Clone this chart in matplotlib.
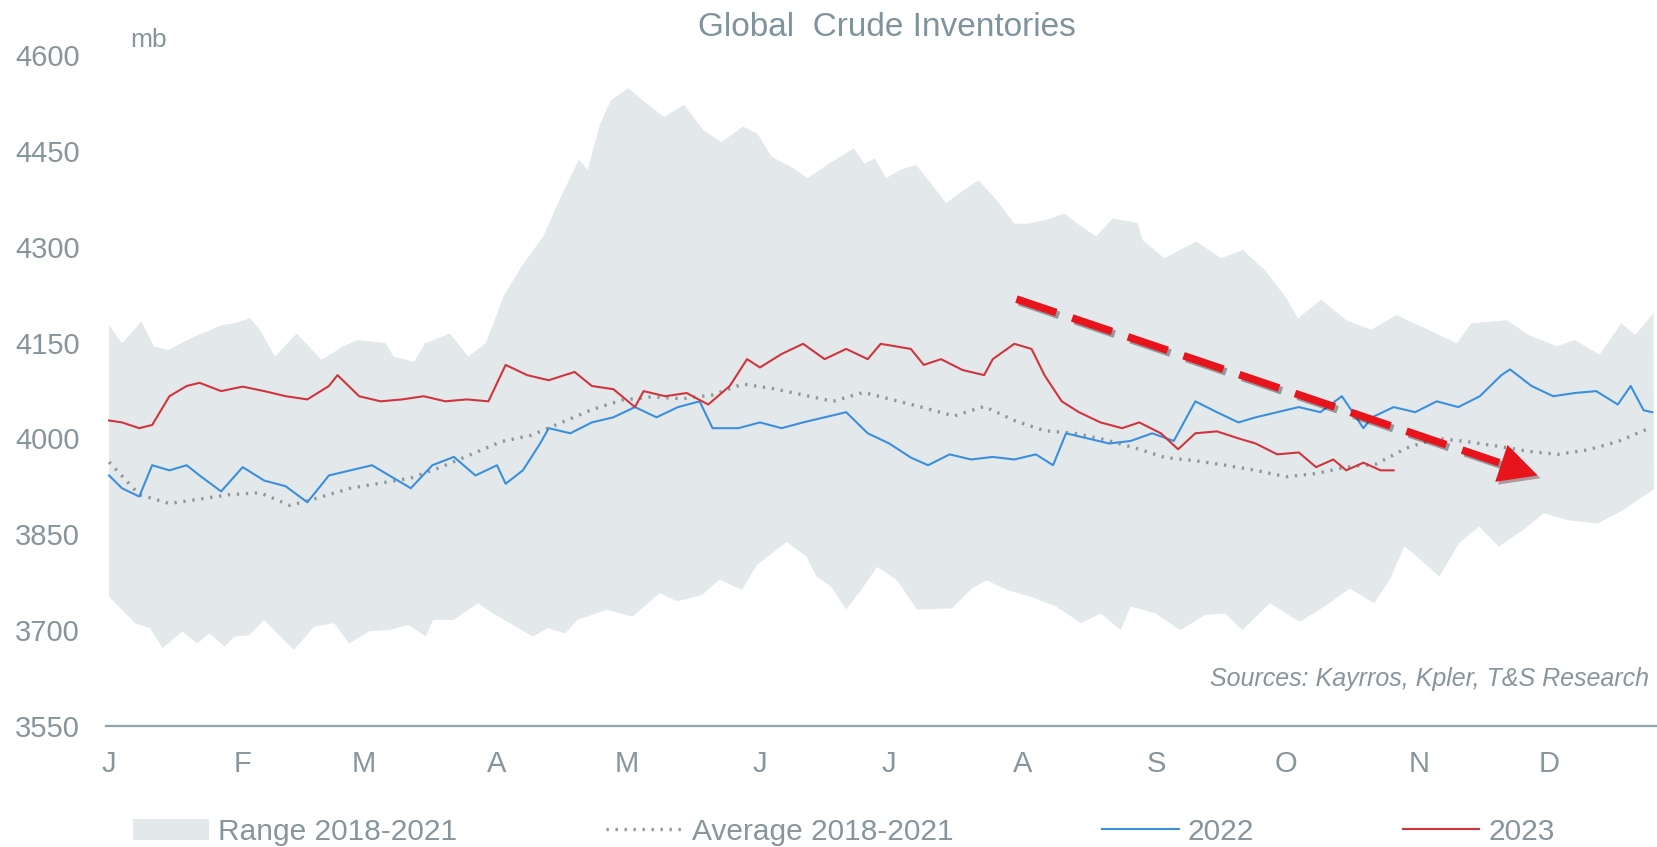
import matplotlib.pyplot as plt
import matplotlib.patheffects as pe

# 2018-2021 range, upper edge (day of year, mb)
hi_days = [0, 3, 7.5, 10.4, 13.7, 17, 20, 23, 26.1, 29, 32.7, 35, 38.5, 43.5, 49.3, 54.3,
           57.6, 64.2, 66, 70.8, 73.3, 79.1, 83.3, 87.4, 91.5, 95.7, 100.7, 104.8, 109,
           111, 113.9, 116.4, 120.5, 124.7, 128.8, 133.4, 137.9, 142.1, 147.1, 150.4,
           153.7, 158.7, 162, 167, 172.8, 175.2, 177.7, 180.2, 183.5, 187.2, 190.1, 194.2,
           196.7, 201.7, 205.9, 210, 213.3, 217.4, 221.6, 225.7, 229, 232.8, 238.6, 239.8,
           244.8, 252.2, 258, 263, 268, 272.9, 275.8, 281.2, 287, 292.8, 298.6, 304.4,
           312.7, 316, 324.3, 329.3, 335.9, 340, 345.8, 350.8, 354.1, 358.3]
range_hi = [4177, 4149, 4183, 4144, 4138, 4150, 4160, 4168, 4177, 4180, 4188, 4170, 4128,
            4164, 4123, 4144, 4154, 4149, 4128, 4120, 4149, 4164, 4128, 4149, 4222, 4269,
            4316, 4378, 4436, 4420, 4492, 4529, 4548, 4524, 4503, 4522, 4482, 4464, 4488,
            4477, 4441, 4423, 4407, 4430, 4454, 4430, 4438, 4407, 4420, 4428, 4404, 4368,
            4381, 4404, 4373, 4336, 4336, 4342, 4352, 4331, 4316, 4344, 4337, 4310, 4282,
            4308, 4282, 4295, 4264, 4222, 4188, 4217, 4185, 4170, 4193, 4175, 4149, 4180,
            4185, 4162, 4144, 4154, 4131, 4180, 4162, 4196]

# 2018-2021 range, lower edge
lo_days = [0, 3, 6, 9.5, 12.4, 17, 20.4, 23.3, 26.8, 29.1, 32.6, 36, 38.9, 42.9, 47.5,
           52.2, 55.7, 60.3, 64.9, 69.5, 73.5, 75.2, 79.9, 85.6, 89.1, 93.7, 98.3, 101.8,
           105.8, 108.7, 115.6, 121.4, 127.8, 131.8, 137.6, 141.6, 146.8, 150.3, 157.2,
           161.8, 164.1, 167.5, 171, 174.5, 178.2, 182.8, 187.4, 195.5, 200.1, 203.6,
           208.2, 213.9, 219.7, 225.5, 230.1, 234.7, 237, 242.8, 248.5, 254.3, 258.9,
           262.9, 269.3, 276.2, 282, 287.8, 293.5, 297, 300.5, 303.9, 308.6, 313.2, 317.8,
           322.4, 328.2, 332.8, 338.5, 345.4, 351.3, 354.7, 358.4]
range_lo = [3752, 3732, 3711, 3703, 3672, 3698, 3679, 3695, 3674, 3690, 3692, 3716, 3695,
            3669, 3705, 3711, 3679, 3698, 3700, 3708, 3690, 3716, 3716, 3742, 3726, 3708,
            3690, 3703, 3695, 3716, 3732, 3721, 3758, 3745, 3755, 3779, 3763, 3802, 3838,
            3815, 3784, 3768, 3732, 3763, 3799, 3778, 3732, 3734, 3765, 3778, 3763, 3752,
            3737, 3711, 3726, 3700, 3737, 3726, 3700, 3724, 3726, 3700, 3742, 3713, 3737,
            3765, 3742, 3778, 3831, 3812, 3784, 3836, 3862, 3831, 3857, 3883, 3872, 3867,
            3888, 3904, 3920]

# 2018-2021 average (weekly)
avg_days = [0, 7, 14, 21, 28, 35, 42, 49, 56, 63, 70, 77, 84, 91, 98, 105, 112, 119, 126,
            133, 140, 147, 154, 161, 168, 175, 182, 189, 196, 203, 210, 217, 224, 231, 238,
            245, 252, 259, 266, 273, 280, 287, 294, 301, 308, 315, 322, 329, 336, 343, 350,
            357]
avg = [3963, 3912, 3898, 3905, 3912, 3915, 3895, 3908, 3922, 3930, 3938, 3955, 3975,
       3995, 4005, 4025, 4045, 4060, 4065, 4062, 4068, 4085, 4078, 4068, 4058, 4072,
       4060, 4048, 4035, 4050, 4028, 4012, 4008, 3998, 3985, 3970, 3965, 3958, 3950,
       3940, 3945, 3955, 3960, 3985, 4000, 3995, 3988, 3980, 3975, 3982, 3995, 4015]

days_2022 = [0, 3, 7, 10, 14, 18, 21, 26, 31, 36, 41, 46, 51, 56, 61, 65, 70, 75, 80, 85,
             90, 92, 96, 100, 102, 107, 112, 117, 122, 127, 132, 137, 140, 146, 151, 156,
             161, 166, 171, 176, 181, 186, 190, 195, 200, 205, 210, 215, 219, 222, 227,
             232, 237, 242, 247, 252, 257, 262, 266, 271, 276, 281, 286, 291, 293, 298,
             303, 308, 313, 318, 323, 325, 330, 335, 340, 345, 350, 353, 356, 358]
inv_2022 = [3942, 3922, 3909, 3958, 3950, 3958, 3942, 3917, 3955, 3934, 3925, 3900, 3942,
            3950, 3958, 3942, 3922, 3958, 3971, 3942, 3958, 3929, 3950, 3992, 4016, 4008,
            4025, 4033, 4049, 4033, 4049, 4058, 4016, 4016, 4025, 4016, 4025, 4033, 4041,
            4008, 3992, 3970, 3958, 3975, 3967, 3971, 3967, 3975, 3958, 4008, 4000, 3992,
            3996, 4008, 3996, 4058, 4041, 4025, 4033, 4041, 4049, 4041, 4066, 4016, 4033,
            4049, 4041, 4058, 4049, 4066, 4099, 4108, 4082, 4066, 4071, 4074, 4053, 4082,
            4044, 4041]

days_2023 = [0, 3, 7, 10, 14, 18, 21, 26, 31, 36, 41, 46, 51, 53, 58, 63, 68, 73, 78, 83,
             88, 92, 97, 102, 108, 112, 117, 122, 124, 129, 134, 139, 144, 148, 151, 156,
             161, 166, 171, 176, 179, 186, 189, 193, 198, 203, 205, 210, 214, 217, 221,
             225, 230, 235, 239, 244, 248, 252, 257, 262, 266, 271, 276, 280, 284, 287,
             291, 295, 298]
inv_2023 = [4028, 4025, 4016, 4021, 4066, 4082, 4087, 4074, 4081, 4074, 4066, 4061, 4082,
            4099, 4066, 4058, 4061, 4066, 4058, 4061, 4058, 4115, 4099, 4091, 4104, 4082,
            4077, 4049, 4074, 4066, 4071, 4053, 4082, 4124, 4111, 4132, 4148, 4124, 4140,
            4124, 4148, 4140, 4115, 4124, 4107, 4099, 4124, 4148, 4140, 4099, 4058, 4041,
            4025, 4016, 4025, 4008, 3983, 4008, 4011, 4000, 3992, 3975, 3978, 3955, 3967,
            3950, 3962, 3950, 3950]

month_starts = [0, 31, 59, 90, 120, 151, 181, 212, 243, 273, 304, 334]
month_labels = ['J', 'F', 'M', 'A', 'M', 'J', 'J', 'A', 'S', 'O', 'N', 'D']
yticks = [3550, 3700, 3850, 4000, 4150, 4300, 4450, 4600]

# trend arrow drawn on the chart (day, mb)
arrow_start = (210.5, 4218)
arrow_base = (322.5, 3962)
arrow_tip = (331.4, 3942)

plt.rcParams['font.family'] = ['Liberation Sans', 'DejaVu Sans']

grey_txt = '#87959c'
fill_col = '#e3e8eb'

fig = plt.figure(figsize=(16.57, 8.47), dpi=100)
ax = fig.add_axes([0.064, 0.1429, 0.936, 0.7922])

band_x = hi_days + lo_days[::-1]
band_y = range_hi + range_lo[::-1]
ax.fill(band_x, band_y, color=fill_col, lw=0, label='Range 2018-2021')
ax.plot(avg_days, avg, color='#8d989c', lw=2.4, linestyle=(0, (0.7, 2.0)),
        label='Average 2018-2021')
ax.plot(days_2022, inv_2022, color='#3b8fdc', lw=1.5, label='2022')
ax.plot(days_2023, inv_2023, color='#d0353d', lw=1.5, label='2023')

shadow = [pe.SimpleLineShadow(offset=(2, -2), alpha=0.35), pe.Normal()]
ax.plot([arrow_start[0], arrow_base[0]], [arrow_start[1], arrow_base[1]],
        color='#e8141b', lw=5.5, linestyle=(0, (5.5, 2.2)),
        dash_capstyle='butt', path_effects=shadow)
ax.annotate('', xy=arrow_tip, xytext=arrow_base,
            arrowprops=dict(arrowstyle='-|>,head_length=0.55,head_width=0.28',
                            mutation_scale=50, color='#e8141b', lw=0,
                            shrinkA=0, shrinkB=0,
                            path_effects=[pe.SimplePatchShadow(offset=(2, -2), alpha=0.35),
                                          pe.Normal()]))

ax.set_xlim(-0.7, 359.1)
ax.set_ylim(3550, 4600)
ax.set_yticks(yticks)
ax.set_xticks(month_starts)
ax.set_xticklabels(month_labels)
ax.tick_params(length=0, labelsize=21, colors=grey_txt)
ax.tick_params(axis='y', pad=19)
ax.tick_params(axis='x', pad=17)
for s in ['top', 'right', 'left']:
    ax.spines[s].set_visible(False)
ax.spines['bottom'].set_color('#8ea3ad')
ax.spines['bottom'].set_linewidth(1.6)

fig.text(0.535, 0.967, 'Global  Crude Inventories', ha='center', va='center',
         fontsize=24, color='#7f939d')
fig.text(0.0785, 0.953, 'mb', ha='left', va='center', fontsize=19, color=grey_txt)
ax.text(0.995, 0.0693, 'Sources: Kayrros, Kpler, T&S Research', transform=ax.transAxes,
        ha='right', va='center', fontsize=18, style='italic', color=grey_txt)

fig.legend(loc='center left', bbox_to_anchor=(0.064, 0.018), ncol=4, frameon=False,
           fontsize=21.5, labelcolor=grey_txt, handlelength=2.55, handletextpad=0.3,
           columnspacing=5.0)

fig.savefig('out.png', dpi=100, facecolor='white')
